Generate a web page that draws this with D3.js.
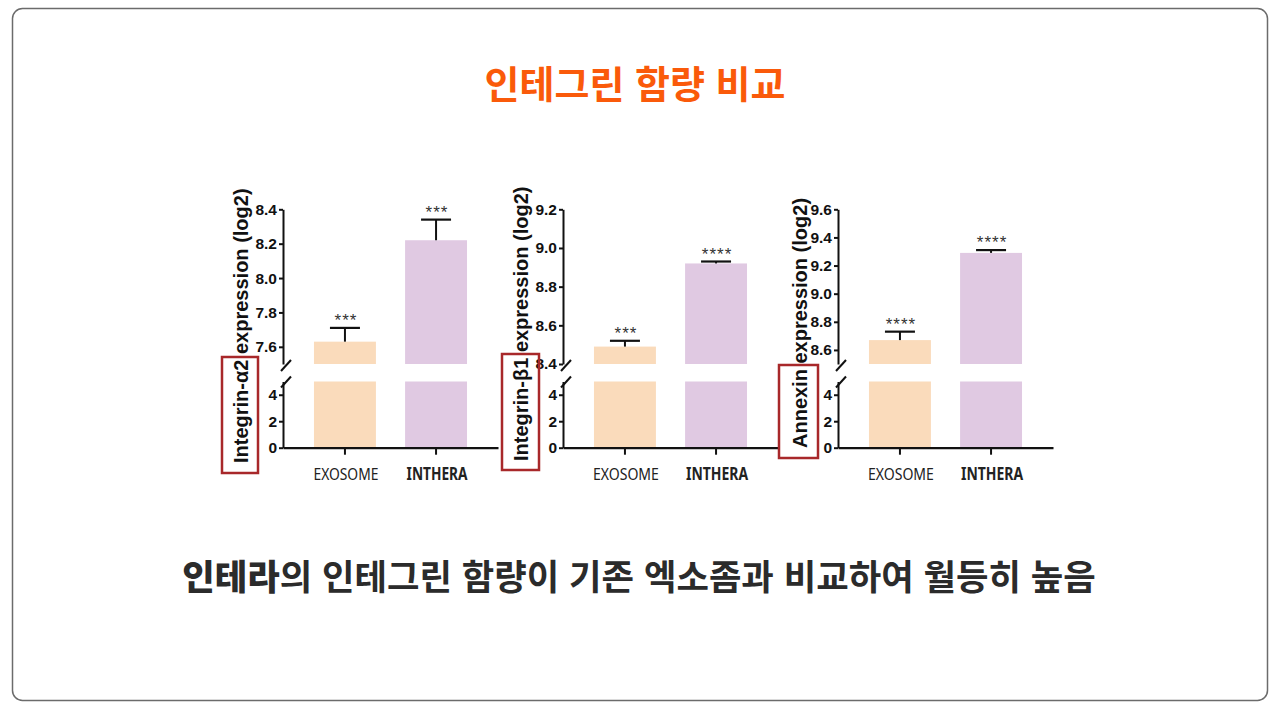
<!DOCTYPE html>
<html lang="ko">
<head>
<meta charset="UTF-8">
<title>인테그린 함량 비교</title>
<script src="https://d3js.org/d3.v7.min.js"></script>
<style>
  body { margin: 0; background: #fff; }
  svg { display: block; }
  .tick text { font-family: "Liberation Sans", Arial, sans-serif; font-weight: 700; font-size: 15.5px; fill: #111; }
</style>
</head>
<body>
<svg id="chart" width="1279" height="718"></svg>
<script>
// data
const categories = ['EXOSOME', 'INTHERA'];
const markerNames = ['Integrin-α2', 'Integrin-β1', 'Annexin'];
const meanValues = [[7.63, 8.22], [8.49, 8.92], [8.67, 9.29]];
const errorValues = [[0.08, 0.12], [0.03, 0.01], [0.06, 0.02]];
const sigLabels = [['***', '***'], ['***', '****'], ['****', '****']];
const upperDomains = [[7.5, 8.4], [8.4, 9.2], [8.5, 9.6]];
const upperTicks = [[7.6, 7.8, 8.0, 8.2, 8.4], [8.4, 8.6, 8.8, 9.0, 9.2], [8.6, 8.8, 9.0, 9.2, 9.4, 9.6]];
const lowerDomain = [0, 5];
const lowerTicks = [0, 2, 4];

const barColors = ['#fadbbb', '#e0c9e2'];
const axisX = [283, 563, 838];
const labelDx = [-42, -42, -38];
const labelY = [463, 461, 448];
const boxes = [[222, 357, 36, 116], [502, 354, 37, 116], [779, 365, 39, 93]];
const xLabelWidths = [[65, 61], [66, 62], [66, 62]];

const svg = d3.select('#chart');

// card frame
svg.append('rect')
  .attr('x', 12.5).attr('y', 8.5)
  .attr('width', 1255).attr('height', 692)
  .attr('rx', 10)
  .attr('fill', '#fff')
  .attr('stroke', '#6b6b6b')
  .attr('stroke-width', 1.5);

// title
svg.append('text')
  .attr('x', 635).attr('y', 98)
  .attr('text-anchor', 'middle')
  .style('font-family', '"Noto Sans CJK KR", sans-serif')
  .style('font-weight', 700)
  .style('font-size', '38px')
  .style('fill', '#fa5a0a')
  .text('인테그린 함량 비교');

// caption
const caption = svg.append('text')
  .attr('x', 639).attr('y', 590)
  .attr('text-anchor', 'middle')
  .style('font-family', '"Noto Sans CJK KR", sans-serif')
  .style('font-size', '35.3px')
  .style('fill', '#2b2b2b');
caption.append('tspan').style('font-weight', 900).text('인테라');
caption.append('tspan').style('font-weight', 700).text('의 인테그린 함량이 기존 엑소좀과 비교하여 월등히 높음');

const upperRange = [364, 209.3];
const lowerRange = [447.7, 381.5];

markerNames.forEach((name, i) => {
  const g = svg.append('g').attr('transform', `translate(${axisX[i]},0)`);

  const x = d3.scaleBand().domain(categories).range([0, 215])
    .paddingInner(0.32).paddingOuter(0.34);
  const yU = d3.scaleLinear().domain(upperDomains[i]).range(upperRange);
  const yL = d3.scaleLinear().domain(lowerDomain).range(lowerRange);

  const rows = categories.map((c, j) => ({
    cat: c, v: meanValues[i][j], e: errorValues[i][j], sig: sigLabels[i][j], color: barColors[j]
  }));

  // upper bars
  g.selectAll('rect.up').data(rows).enter().append('rect')
    .attr('class', 'up')
    .attr('x', d => x(d.cat))
    .attr('width', x.bandwidth())
    .attr('y', d => yU(d.v))
    .attr('height', d => yU(upperDomains[i][0]) - yU(d.v))
    .attr('fill', d => d.color);

  // lower bars (full below the break)
  g.selectAll('rect.low').data(rows).enter().append('rect')
    .attr('class', 'low')
    .attr('x', d => x(d.cat))
    .attr('width', x.bandwidth())
    .attr('y', yL(lowerDomain[1]))
    .attr('height', yL(lowerDomain[0]) - yL(lowerDomain[1]))
    .attr('fill', d => d.color);

  // error bars
  const cx = d => x(d.cat) + x.bandwidth() / 2;
  g.selectAll('line.err').data(rows).enter().append('line')
    .attr('x1', cx).attr('x2', cx)
    .attr('y1', d => yU(d.v)).attr('y2', d => yU(d.v + d.e))
    .attr('stroke', '#111').attr('stroke-width', 2);
  g.selectAll('line.cap').data(rows).enter().append('line')
    .attr('x1', d => cx(d) - 15).attr('x2', d => cx(d) + 15)
    .attr('y1', d => yU(d.v + d.e)).attr('y2', d => yU(d.v + d.e))
    .attr('stroke', '#111').attr('stroke-width', 2.2);

  // significance stars
  g.selectAll('text.sig').data(rows).enter().append('text')
    .attr('x', d => cx(d) + 1)
    .attr('y', d => yU(d.v + d.e) - 2)
    .attr('text-anchor', 'middle')
    .style('font-family', '"Liberation Sans", Arial, sans-serif')
    .style('font-size', '17px')
    .style('letter-spacing', '1px')
    .style('fill', '#333')
    .text(d => d.sig);

  // axes
  const fmt = d3.format('.1f');
  const axU = g.append('g').call(d3.axisLeft(yU).tickValues(upperTicks[i]).tickFormat(fmt)
    .tickSize(4).tickSizeOuter(0).tickPadding(2));
  const axL = g.append('g').call(d3.axisLeft(yL).tickValues(lowerTicks).tickFormat(d3.format('d'))
    .tickSize(4).tickSizeOuter(0).tickPadding(2));
  [axU, axL].forEach(a => {
    a.select('.domain').attr('stroke', '#111').attr('stroke-width', 2);
    a.selectAll('.tick line').attr('stroke', '#111').attr('stroke-width', 2);
  });

  const axB = g.append('g').attr('transform', `translate(0,${lowerRange[0]})`)
    .call(d3.axisBottom(x).tickSize(7).tickSizeOuter(0).tickFormat(''));
  axB.select('.domain').attr('stroke', '#111').attr('stroke-width', 2.2);
  axB.selectAll('.tick line').attr('stroke', '#111').attr('stroke-width', 2);

  // category labels
  g.selectAll('text.cat').data(rows).enter().append('text')
    .attr('x', d => cx(d) + 1)
    .attr('y', lowerRange[0] + 32)
    .attr('text-anchor', 'middle')
    .attr('textLength', (d, j) => xLabelWidths[i][j])
    .attr('lengthAdjust', 'spacingAndGlyphs')
    .style('font-family', '"Noto Sans", sans-serif')
    .style('font-size', '17px')
    .style('font-weight', (d, j) => j === 1 ? 700 : 400)
    .style('fill', '#222')
    .text(d => d.cat);

  // axis break marks
  [upperRange[0] + 1, lowerRange[1]].forEach(yb => {
    g.append('line')
      .attr('x1', -2).attr('y1', yb + 6)
      .attr('x2', 8).attr('y2', yb - 5)
      .attr('stroke', '#111').attr('stroke-width', 2);
  });

  // y axis title
  svg.append('text')
    .attr('transform', `translate(${axisX[i] + labelDx[i]},${labelY[i]}) rotate(-90)`)
    .attr('dominant-baseline', 'central')
    .style('font-family', '"Liberation Sans", Arial, sans-serif')
    .style('font-weight', 700)
    .style('font-size', '20px')
    .style('fill', '#111')
    .text(`${name} expression (log2)`);

  // red highlight box on the marker name
  const b = boxes[i];
  svg.append('rect')
    .attr('x', b[0]).attr('y', b[1])
    .attr('width', b[2]).attr('height', b[3])
    .attr('fill', 'none')
    .attr('stroke', '#a8282a')
    .attr('stroke-width', 2.5);
});
</script>
</body>
</html>
